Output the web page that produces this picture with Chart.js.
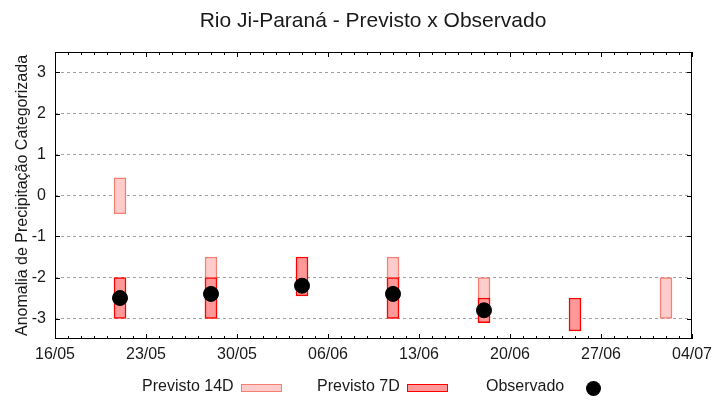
<!DOCTYPE html>
<html>
<head>
<meta charset="utf-8">
<script src="https://cdn.jsdelivr.net/npm/chart.js@4"></script>
<style>
  body { margin: 0; background: #fff; }
  #wrap { position: relative; width: 720px; height: 400px; font-family: "Liberation Sans", Arial, sans-serif; color: #1a1a1a; }
  #title { position: absolute; top: 8px; left: 173px; width: 400px; text-align: center; font-size: 21px; line-height: 24px; }
  .lg { position: absolute; font-size: 16px; line-height: 18px; top: 377px; }
  .sw { position: absolute; box-sizing: border-box; }
</style>
</head>
<body>
<div id="wrap">
  <canvas id="chart" width="720" height="400"></canvas>
  <div id="title">Rio Ji-Paraná - Previsto x Observado</div>
  <div class="lg" style="left:142px">Previsto 14D</div>
  <div class="sw" style="left:241px;top:384px;width:41px;height:8px;background:#ffcccc;border:1.5px solid #f28173"></div>
  <div class="lg" style="left:317px">Previsto 7D</div>
  <div class="sw" style="left:407px;top:384px;width:41px;height:8px;background:#ff9999;border:1.5px solid #ff0000"></div>
  <div class="lg" style="left:486px">Observado</div>
  <div class="sw" style="left:586px;top:381px;width:15px;height:15px;border-radius:50%;background:#000"></div>
</div>
<script>
// datas das previsões (dd/mm), eixo começa em 16/05
const dates = ["21/05", "28/05", "04/06", "11/06", "18/06", "25/06", "02/07"];
const prev14Lo = [-0.45, -3, null, -3, -3, null, -3];
const prev14Hi = [0.43, -1.5, null, -1.5, -2, null, -2];
const prev7Lo = [-3, -3, -2.45, -3, -3.1, -3.3, null];
const prev7Hi = [-2, -2, -1.5, -2, -2.5, -2.5, null];
const observado = [-2.5, -2.4, -2.2, -2.4, -2.8, null, null];
const xTickLabels = ["16/05", "23/05", "30/05", "06/06", "13/06", "20/06", "27/06", "04/07"];
const yTicks = [-3, -2, -1, 0, 1, 2, 3];

const START = Date.UTC(2000, 4, 16);
function dayOf(s) {
  const [d, m] = s.split("/").map(Number);
  return (Date.UTC(2000, m - 1, d) - START) / 864e5;
}
const xMax = dayOf(xTickLabels[xTickLabels.length - 1]);
const labelAt = {};
xTickLabels.forEach(l => { labelAt[dayOf(l)] = l; });

function bars(lo, hi) {
  const out = [];
  dates.forEach((d, i) => {
    if (lo[i] != null) out.push({ x: dayOf(d), y: [lo[i], hi[i]] });
  });
  return out;
}
const obsPts = [];
dates.forEach((d, i) => { if (observado[i] != null) obsPts.push({ x: dayOf(d), y: observado[i] }); });

const FONT = "'Liberation Sans', Arial, sans-serif";
const TXT = "#1a1a1a";

// moldura com ticks para dentro, estilo gnuplot
const frame = {
  id: "frame",
  afterDraw(chart) {
    const { ctx, chartArea: a, scales } = chart;
    ctx.save();
    ctx.strokeStyle = "#000";
    ctx.lineWidth = 1;
    ctx.strokeRect(Math.round(a.left) + 0.5, Math.round(a.top) + 0.5,
      Math.round(a.right - a.left) - 1, Math.round(a.bottom - a.top) - 1);
    ctx.beginPath();
    for (let i = 0; i <= xMax; i++) {
      const px = Math.round(scales.x.getPixelForValue(i)) + 0.5;
      const len = labelAt[i] ? 5 : 3;
      ctx.moveTo(px, a.bottom); ctx.lineTo(px, a.bottom - len);
      ctx.moveTo(px, a.top); ctx.lineTo(px, a.top + len);
    }
    yTicks.forEach(v => {
      const py = Math.round(scales.y.getPixelForValue(v)) + 0.5;
      ctx.moveTo(a.left, py); ctx.lineTo(a.left + 5, py);
      ctx.moveTo(a.right, py); ctx.lineTo(a.right - 5, py);
    });
    ctx.stroke();
    ctx.restore();
  }
};

new Chart(document.getElementById("chart"), {
  type: "bar",
  data: {
    datasets: [
      {
        type: "scatter",
        label: "Observado",
        data: obsPts,
        pointRadius: 7.5,
        backgroundColor: "#000",
        borderColor: "#000",
        order: 1,
      },
      {
        label: "Previsto 7D",
        data: bars(prev7Lo, prev7Hi),
        backgroundColor: "#ff9999",
        borderColor: "#ff0000",
        borderWidth: 1.5,
        borderSkipped: false,
        barThickness: 12,
        grouped: false,
        order: 2,
      },
      {
        label: "Previsto 14D",
        data: bars(prev14Lo, prev14Hi),
        backgroundColor: "#ffcccc",
        borderColor: "#f28173",
        borderWidth: 1.5,
        borderSkipped: false,
        barThickness: 12,
        grouped: false,
        order: 3,
      },
    ],
  },
  options: {
    responsive: false,
    animation: false,
    layout: { padding: { left: 0, right: 28, top: 52, bottom: 40 } },
    plugins: {
      legend: { display: false },
      tooltip: { enabled: false },
    },
    scales: {
      x: {
        type: "linear",
        min: 0,
        max: xMax,
        offset: false,
        afterBuildTicks: s => {
          s.ticks = [];
          for (let i = 0; i <= xMax; i++) s.ticks.push({ value: i });
        },
        afterFit: s => { s.height = 21; },
        grid: { display: false, drawTicks: false, offset: false },
        border: { display: false },
        ticks: {
          autoSkip: false,
          maxRotation: 0,
          padding: 6,
          color: TXT,
          font: { family: FONT, size: 16 },
          callback: v => labelAt[v] || "",
        },
      },
      y: {
        min: -3.5,
        max: 3.5,
        afterBuildTicks: s => { s.ticks = yTicks.map(v => ({ value: v })); },
        afterFit: s => { s.width = 55; },
        grid: { color: "#a0a0a0", lineWidth: 1, drawTicks: false },
        border: { display: false, dash: [3, 3] },
        ticks: {
          padding: 9,
          color: TXT,
          font: { family: FONT, size: 16 },
        },
        title: {
          display: true,
          text: "Anomalia de Precipitação Categorizada",
          color: TXT,
          font: { family: FONT, size: 16 },
          padding: { top: 13, bottom: 0 },
        },
      },
    },
  },
  plugins: [frame],
});
</script>
</body>
</html>
